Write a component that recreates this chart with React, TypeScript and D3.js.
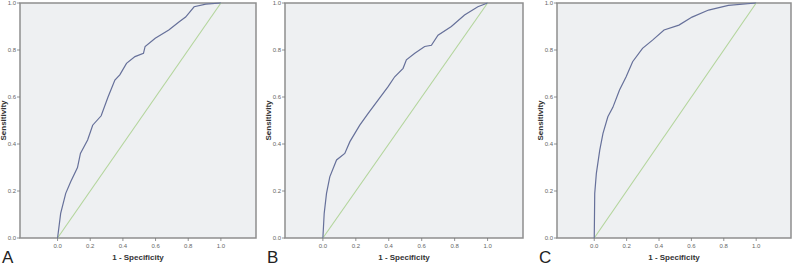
import React from 'react';
import * as d3 from 'd3';

// ROC curve points: [1 - specificity, sensitivity]
const fprA = [0, 0.019, 0.05, 0.081, 0.122, 0.14, 0.184, 0.215, 0.267, 0.309, 0.351, 0.381, 0.422, 0.474, 0.526, 0.536, 0.598, 0.681, 0.743, 0.784, 0.836, 0.908, 1];
const tprA = [0, 0.105, 0.19, 0.24, 0.3, 0.36, 0.417, 0.48, 0.52, 0.6, 0.672, 0.694, 0.743, 0.772, 0.786, 0.815, 0.85, 0.885, 0.919, 0.94, 0.984, 0.995, 1];

const fprB = [0, 0.008, 0.022, 0.042, 0.083, 0.133, 0.164, 0.224, 0.275, 0.335, 0.396, 0.436, 0.487, 0.507, 0.558, 0.618, 0.659, 0.699, 0.78, 0.86, 0.941, 1];
const tprB = [0, 0.105, 0.19, 0.26, 0.332, 0.36, 0.41, 0.48, 0.53, 0.587, 0.644, 0.686, 0.722, 0.758, 0.786, 0.815, 0.82, 0.863, 0.9, 0.949, 0.984, 1];

const fprC = [0, 0.003, 0.013, 0.034, 0.054, 0.084, 0.115, 0.156, 0.197, 0.237, 0.298, 0.36, 0.431, 0.523, 0.604, 0.706, 0.828, 1];
const tprC = [0, 0.19, 0.275, 0.374, 0.445, 0.516, 0.556, 0.63, 0.686, 0.75, 0.807, 0.842, 0.885, 0.906, 0.94, 0.97, 0.99, 1];

const tickValues = [0, 0.2, 0.4, 0.6, 0.8, 1.0];
const panelLetters = ['A', 'B', 'C'];
const xTitle = '1 - Specificity';
const yTitle = 'Sensitivity';

const panels = [
  { letter: panelLetters[0], fpr: fprA, tpr: tprA, left: 20, right: 256 },
  { letter: panelLetters[1], fpr: fprB, tpr: tprB, left: 285, right: 523 },
  { letter: panelLetters[2], fpr: fprC, tpr: tprC, left: 557, right: 791 },
];

const top = 3;
const bottom = 238;
const font = '"Liberation Sans", Arial, sans-serif';

function RocPanel({ p }: { p: typeof panels[number] }) {
  const x = d3.scaleLinear().domain([-0.23, 1.215]).range([p.left, p.right]);
  const y = d3.scaleLinear().domain([0, 1]).range([bottom, top]);
  const pts = p.fpr.map((v, i) => [v, p.tpr[i]] as [number, number]);
  const line = d3.line<[number, number]>().x(d => x(d[0])).y(d => y(d[1]));
  const cx = (p.left + p.right) / 2;

  return (
    <g>
      <rect x={p.left} y={top} width={p.right - p.left} height={bottom - top}
        fill="#eef0f2" stroke="#8e8e8e" strokeWidth={1.5} />
      <path d={line([[0, 0], [1, 1]]) || ''} fill="none" stroke="#b3d59c" strokeWidth={1.1} />
      <path d={line(pts) || ''} fill="none" stroke="#66709a" strokeWidth={1.2} />
      {tickValues.map(t => (
        <g key={'y' + t}>
          <line x1={p.left - 3} x2={p.left} y1={y(t)} y2={y(t)} stroke="#777" strokeWidth={0.8} />
          <text x={p.left - 4} y={y(t) + 2} textAnchor="end" fontSize={6} fill="#666" fontFamily={font}>
            {d3.format('.1f')(t)}
          </text>
        </g>
      ))}
      {tickValues.map(t => (
        <g key={'x' + t}>
          <line x1={x(t)} x2={x(t)} y1={bottom} y2={bottom + 3} stroke="#777" strokeWidth={0.8} />
          <text x={x(t)} y={bottom + 10} textAnchor="middle" fontSize={6} fill="#666" fontFamily={font}>
            {d3.format('.1f')(t)}
          </text>
        </g>
      ))}
      <text x={cx} y={260} textAnchor="middle" fontSize={8} fontWeight="bold" fill="#333" fontFamily={font}>
        {xTitle}
      </text>
      <text transform={`translate(${p.left - 14},${(top + bottom) / 2}) rotate(-90)`} textAnchor="middle"
        fontSize={8} fontWeight="bold" fill="#333" fontFamily={font}>
        {yTitle}
      </text>
      <text x={p.left - 18} y={263} fontSize={17} fill="#222" fontFamily={font}>
        {p.letter}
      </text>
    </g>
  );
}

export default function App() {
  return (
    <svg width={800} height={267} style={{ position: 'absolute', left: 0, top: 0, background: '#fff' }}>
      {panels.map(p => <RocPanel key={p.letter} p={p} />)}
    </svg>
  );
}
